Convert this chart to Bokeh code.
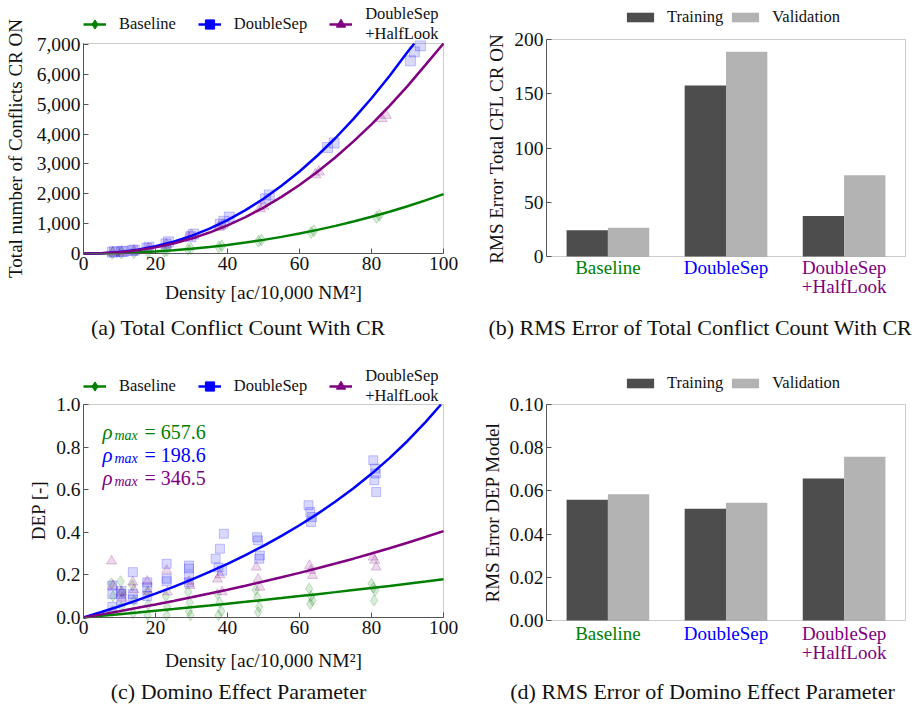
import math
from bokeh.plotting import figure
from bokeh.layouts import column, row
from bokeh.models import (Range1d, FixedTicker, NumeralTickFormatter, Legend,
                          LegendItem, Label, ColumnDataSource, BoxAnnotation)
from bokeh.transform import dodge
from bokeh.embed import file_html
from bokeh.resources import INLINE

FONT = "Liberation Serif"
GREEN = "#008000"
BLUE = "#0000ff"
PURPLE = "#800080"
DARK = "#4d4d4d"
LIGHT = "#b3b3b3"
FRAME = "#555555"
TXT = "#111111"

# ---------------- data ----------------
series_names = ["Baseline", "DoubleSep", "DoubleSep\n+HalfLook"]
series_colors = [GREEN, BLUE, PURPLE]
series_markers = ["diamond", "square", "triangle"]

density_fit = [0, 5, 10, 15, 20, 25, 30, 35, 40, 45, 50, 55, 60, 65, 70, 75, 80, 85, 90, 95, 100]

# (a) total conflicts, fitted curves (the DoubleSep curve leaves the axes at about 92)
fit_a_baseline = [0, 4.3, 17.1, 38.8, 69.6, 109.6, 159.1, 218.3, 287.4, 366.7, 456.5, 556.9,
                  668.3, 790.9, 925.1, 1071.1, 1229.2, 1399.7, 1583.2, 1779.7, 1989.5]
density_fit_a_ds = [0, 5, 10, 15, 20, 25, 30, 35, 40, 45, 50, 55, 60, 65, 70, 75, 80, 85, 90, 91.9]
fit_a_doublesep = [0, 11.2, 51.9, 127.5, 241.0, 395.1, 592.0, 832.2, 1119, 1452, 1835, 2267,
                   2746, 3280, 3866, 4505, 5197, 5944, 6746, 7030]
fit_a_halflook = [0, 9.7, 44.6, 108.7, 204.7, 334.6, 499.8, 701.3, 941.2, 1219, 1538, 1897,
                  2295, 2738, 3224, 3752, 4324, 4942, 5604, 6313, 7030]

# (a) measured points
dens_a_bl = [8.0, 10.5, 14.0, 18.0, 22.5, 23.2, 29.0, 29.8, 37.6, 38.4, 48.6, 49.4, 63.2, 64.0, 81.4, 82.2]
conf_a_bl = [8, 14, 28, 48, 85, 105, 140, 165, 220, 255, 410, 450, 700, 760, 1210, 1280]
dens_a_ds = [8.0, 8.6, 10.6, 11.1, 13.6, 14.2, 17.6, 18.2, 22.9, 23.6, 29.8, 30.6, 38.0, 39.0, 40.5,
             50.6, 51.6, 67.8, 69.6, 90.8, 91.9, 93.6]
conf_a_ds = [45, 60, 60, 75, 95, 115, 170, 210, 320, 390, 560, 650, 980, 1080, 1220,
             1830, 1960, 3550, 3700, 6450, 6750, 6950]
dens_a_hl = [8.2, 10.6, 14.0, 18.0, 23.0, 29.0, 30.0, 37.6, 38.6, 49.0, 50.0, 64.4, 65.4, 82.8, 84.0]
conf_a_hl = [35, 50, 90, 160, 300, 550, 610, 880, 950, 1500, 1590, 2640, 2730, 4520, 4630]

# (b) RMS error total conflict count
rms_cfl_train = [24.3, 157.5, 37.3]
rms_cfl_val = [26.5, 188.6, 74.9]

# (c) DEP fitted curves (the DoubleSep curve reaches 1.0 at about 99.3)
fit_c_baseline = [0, 0.0077, 0.0154, 0.0233, 0.0314, 0.0395, 0.0478, 0.0562, 0.0648, 0.0735, 0.0823,
                  0.0913, 0.1004, 0.1097, 0.1191, 0.1287, 0.1385, 0.1484, 0.1586, 0.1689, 0.1793]
density_fit_c_ds = [0, 5, 10, 15, 20, 25, 30, 35, 40, 45, 50, 55, 60, 65, 70, 75, 80, 85, 90, 95, 99.3]
fit_c_doublesep = [0, 0.0258, 0.0530, 0.0817, 0.1120, 0.1440, 0.1779, 0.2139, 0.2522, 0.2930, 0.3365,
                   0.3830, 0.4329, 0.4865, 0.5443, 0.6068, 0.6745, 0.7482, 0.8287, 0.9170, 1.0]
fit_c_halflook = [0, 0.0146, 0.0297, 0.0453, 0.0613, 0.0778, 0.0948, 0.1124, 0.1305, 0.1493, 0.1686,
                  0.1887, 0.2094, 0.2309, 0.2532, 0.2762, 0.3002, 0.3250, 0.3509, 0.3777, 0.4057]

# (c) measured DEP points
dens_c_bl = [7.8, 8.2, 8.0, 10.3, 10.7, 10.5, 13.6, 14.0, 13.8, 17.6, 18.0, 17.8, 22.9, 23.3, 23.1,
             29.1, 29.5, 29.3, 29.7, 37.2, 37.8, 38.3, 37.5, 47.8, 48.3, 48.8, 48.5,
             62.7, 63.2, 63.6, 63.0, 80.0, 80.5, 81.0, 80.7]
dep_c_bl = [0.16, 0.10, 0.03, 0.17, 0.12, 0.05, 0.15, 0.08, 0.02, 0.12, 0.06, 0.01, 0.10, 0.05, 0.01,
            0.12, 0.07, 0.03, 0.01, 0.11, 0.07, 0.03, 0.01, 0.13, 0.095, 0.05, 0.025,
            0.135, 0.10, 0.08, 0.064, 0.158, 0.14, 0.127, 0.08]
dens_c_ds = [8.0, 8.0, 8.0, 10.5, 10.5, 10.5, 13.7, 13.7, 13.7, 17.7, 17.7, 17.7, 23.1, 23.1, 23.1,
             29.3, 29.3, 29.3, 29.3, 36.7, 37.9, 39.0, 37.5, 38.5, 48.2, 48.5, 49.0, 48.8,
             62.5, 63.0, 63.5, 63.2, 80.5, 81.0, 81.2, 80.8, 81.3]
dep_c_ds = [0.150, 0.110, 0.05, 0.125, 0.111, 0.08, 0.213, 0.11, 0.085, 0.165, 0.142, 0.10,
            0.252, 0.182, 0.17, 0.244, 0.23, 0.197, 0.165, 0.276, 0.323, 0.393, 0.235, 0.22,
            0.377, 0.362, 0.291, 0.276, 0.527, 0.495, 0.472, 0.448, 0.738, 0.699, 0.676, 0.644, 0.589]
dens_c_hl = [7.8, 8.2, 10.5, 10.8, 13.7, 14.0, 17.7, 18.0, 23.1, 23.3, 29.3, 29.6, 37.2, 37.9, 38.5,
             48.0, 48.5, 49.0, 62.8, 63.2, 63.6, 80.4, 80.9, 81.3]
dep_c_hl = [0.265, 0.15, 0.12, 0.09, 0.166, 0.13, 0.17, 0.12, 0.221, 0.12, 0.17, 0.15, 0.18, 0.2, 0.12,
            0.236, 0.18, 0.142, 0.244, 0.221, 0.197, 0.283, 0.268, 0.236]

rho_max = [657.6, 198.6, 346.5]

# (d) RMS error DEP
rms_dep_train = [0.0559, 0.0517, 0.0657]
rms_dep_val = [0.0585, 0.0545, 0.0758]

captions = ["(a) Total Conflict Count With CR",
            "(b) RMS Error of Total Conflict Count With CR",
            "(c) Domino Effect Parameter",
            "(d) RMS Error of Domino Effect Parameter"]
density_label = "Density [ac/10,000 NM\u00b2]"

# ---------------- layout (pixels, canvas coordinates) ----------------
LW, RW = 468, 445
TOP_H, BOT_H = 350, 358
CAPTION_SIZE = "22px"


def ranges(w, h, box, data):
    """Ranges so that the data box `data` (x0, x1, y0, y1) lands on the pixel box
    `box` (left, right, top, bottom) of a w x h canvas whose frame is the canvas."""
    l, r, t, b = box
    x0, x1, y0, y1 = data
    sx = (x1 - x0) / (r - l)
    sy = (y1 - y0) / (b - t)
    return (Range1d(x0 - l * sx, x1 + (w - r) * sx),
            Range1d(y0 - (h - b) * sy, y1 + t * sy))


def base_figure(w, h, box, data):
    xr, yr = ranges(w, h, box, data)
    p = figure(width=w, height=h, x_range=xr, y_range=yr, output_backend="svg",
               toolbar_location=None, min_border=0, outline_line_color=None)
    p.grid.visible = False
    for ax in (p.xaxis[0], p.yaxis[0]):
        ax.axis_line_color = FRAME
        ax.major_tick_line_color = FRAME
        ax.major_tick_in = 5
        ax.major_tick_out = 0
        ax.minor_tick_line_color = None
        ax.major_label_text_font = FONT
        ax.major_label_text_font_size = "19.5px"
        ax.major_label_text_color = TXT
        ax.major_label_standoff = 3
    p.xaxis.fixed_location = data[2]
    p.xaxis.bounds = (data[0], data[1])
    p.yaxis.fixed_location = data[0]
    p.yaxis.bounds = (data[2], data[3])
    p.add_layout(BoxAnnotation(left=data[0], right=data[1], bottom=data[2], top=data[3],
                               fill_alpha=0, line_color=FRAME, line_width=1, level="overlay"))
    return p


def text(p, s, x, y, size="19px", color=TXT, angle=0.0, align="center", baseline="middle",
         style="normal", x_units="screen"):
    p.add_layout(Label(x=x, y=y, x_units=x_units, y_units="screen", text=s, text_font=FONT,
                       text_font_size=size, text_color=color, angle=angle,
                       text_align=align, text_baseline=baseline, text_font_style=style))


def scatter_line_plot(h, box, y_end, y_ticks, y_fmt, fits, pts, sizes, leg_y):
    p = base_figure(LW, h, box, (0, 100, 0, y_end))
    p.xaxis.ticker = FixedTicker(ticks=[0, 20, 40, 60, 80, 100])
    p.yaxis.ticker = FixedTicker(ticks=y_ticks)
    p.yaxis.formatter = NumeralTickFormatter(format=y_fmt)
    for (xs, ys), color, marker, sz in zip(pts, series_colors, series_markers, sizes):
        p.scatter(xs, ys, marker=marker, size=sz, fill_color=color, fill_alpha=0.15,
                  line_color=color, line_alpha=0.22)
    items = []
    for (fx, fy), (xs, ys), name, color, marker in zip(fits, pts, series_names,
                                                      series_colors, series_markers):
        lr = p.line(fx, fy, line_color=color, line_width=2.5)
        # solid marker used only for the legend key
        mr = p.scatter(xs, ys, marker=marker, size=9, color=color, visible=False)
        items.append(LegendItem(label=name, renderers=[lr, mr]))
    leg = Legend(items=items, orientation="horizontal", location=(box[0], leg_y),
                 glyph_width=23, glyph_height=34, label_standoff=13, spacing=22,
                 padding=0, margin=0, border_line_color=None, background_fill_alpha=0,
                 label_text_font=FONT, label_text_font_size="16.5px", label_text_color=TXT,
                 label_text_line_height=1.0)
    p.add_layout(leg)
    return p


def bar_plot(h, box, train, val, y_end, y_ticks, y_fmt, leg_y, cat_y):
    p = base_figure(RW, h, box, (-0.52, 2.52, 0, y_end))
    p.xaxis.visible = False
    p.yaxis.ticker = FixedTicker(ticks=y_ticks)
    p.yaxis.formatter = NumeralTickFormatter(format=y_fmt)
    src = ColumnDataSource(dict(x=[0, 1, 2], train=train, val=val))
    rt = p.vbar(x=dodge("x", -0.175), top="train", width=0.35, source=src,
                fill_color=DARK, line_color=None)
    rv = p.vbar(x=dodge("x", 0.175), top="val", width=0.35, source=src,
                fill_color=LIGHT, line_color=None)
    leg = Legend(items=[LegendItem(label="Training", renderers=[rt]),
                        LegendItem(label="Validation", renderers=[rv])],
                 orientation="horizontal", location=(155, leg_y),
                 glyph_width=34, glyph_height=12, label_standoff=10, spacing=5,
                 padding=0, margin=0, border_line_color=None, background_fill_alpha=0,
                 label_text_font=FONT, label_text_font_size="16.5px", label_text_color=TXT)
    p.add_layout(leg)
    for i, (name, color) in enumerate(zip(series_names, series_colors)):
        for j, line in enumerate(name.split("\n")):
            text(p, line, i, cat_y - 19 * j, color=color, x_units="data")
    return p


# ---------------- (a) ----------------
pa = scatter_line_plot(TOP_H, (83, 443, 43, 253), 7030,
                       [0, 1000, 2000, 3000, 4000, 5000, 6000, 7000], "0,0",
                       [(density_fit, fit_a_baseline), (density_fit_a_ds, fit_a_doublesep),
                        (density_fit, fit_a_halflook)],
                       [(dens_a_bl, conf_a_bl), (dens_a_ds, conf_a_ds), (dens_a_hl, conf_a_hl)],
                       [12, 10, 11], 306)
text(pa, "Total number of Conflicts CR ON", 15, TOP_H - 148, angle=math.pi / 2)
text(pa, density_label, 263, TOP_H - 292, size="19.5px")
text(pa, captions[0], 238, TOP_H - 327, size=CAPTION_SIZE)

# ---------------- (c) ----------------
pc = scatter_line_plot(BOT_H, (83, 443, 54, 267), 1.0, [0, 0.2, 0.4, 0.6, 0.8, 1.0], "0.0",
                       [(density_fit, fit_c_baseline), (density_fit_c_ds, fit_c_doublesep),
                        (density_fit, fit_c_halflook)],
                       [(dens_c_bl, dep_c_bl), (dens_c_ds, dep_c_ds), (dens_c_hl, dep_c_hl)],
                       [11, 9, 10], 302)
text(pc, "DEP [-]", 38, BOT_H - 160, angle=math.pi / 2)
text(pc, density_label, 263, BOT_H - 310, size="19.5px")
text(pc, captions[2], 238, BOT_H - 341, size=CAPTION_SIZE)
for k, (rm, color) in enumerate(zip(rho_max, series_colors)):
    base = BOT_H - 81 - 23 * k
    text(pc, "\u03c1", 102, base, size="21px", color=color, align="left",
         baseline="alphabetic", style="italic")
    text(pc, "max", 114, base - 4, size="14px", color=color, align="left",
         baseline="alphabetic", style="italic")
    text(pc, "= %.1f" % rm, 144, base, size="20px", color=color, align="left",
         baseline="alphabetic")

# ---------------- (b) ----------------
pb = bar_plot(TOP_H, (78, 437, 39, 256), rms_cfl_train, rms_cfl_val, 200,
              [0, 50, 100, 150, 200], "0", 323, 83)
text(pb, "RMS Error Total CFL CR ON", 28, TOP_H - 148, angle=math.pi / 2)
text(pb, captions[1], 232, TOP_H - 327, size=CAPTION_SIZE)

# ---------------- (d) ----------------
pd_ = bar_plot(BOT_H, (78, 437, 54, 270), rms_dep_train, rms_dep_val, 0.10,
               [0, 0.02, 0.04, 0.06, 0.08, 0.10], "0.00", 315, 75)
text(pd_, "RMS Error DEP Model", 24, BOT_H - 162, angle=math.pi / 2)
text(pd_, captions[3], 234, BOT_H - 341, size=CAPTION_SIZE)

layout = row(column(pa, pc), column(pb, pd_))
open("out.html", "w").write(file_html(layout, INLINE))
